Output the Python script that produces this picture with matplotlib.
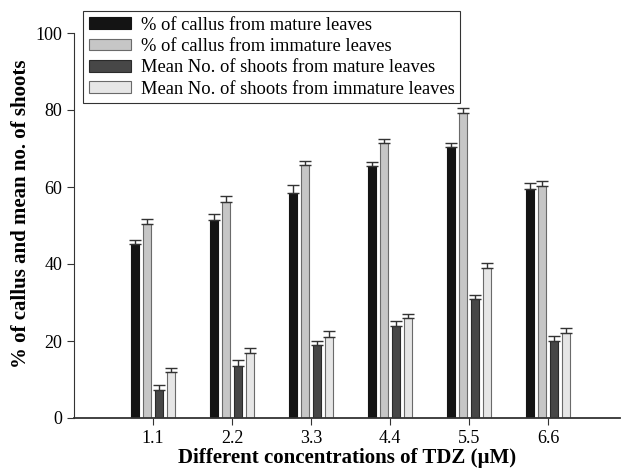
import matplotlib
matplotlib.use("Agg")
import matplotlib.pyplot as plt
import numpy as np

concentrations = ["1.1", "2.2", "3.3", "4.4", "5.5", "6.6"]

callus_mature = [45.2, 51.5, 58.5, 65.5, 70.5, 59.5]
callus_mature_err = [1.0, 1.5, 2.0, 1.0, 1.0, 1.5]
callus_immature = [50.5, 56.2, 65.7, 71.5, 79.2, 60.3]
callus_immature_err = [1.2, 1.5, 1.0, 1.0, 1.3, 1.2]
shoots_mature = [7.4, 13.6, 19.0, 24.0, 31.0, 20.0]
shoots_mature_err = [1.2, 1.4, 1.0, 1.2, 1.0, 1.2]
shoots_immature = [12.0, 17.0, 21.0, 26.0, 39.0, 22.0]
shoots_immature_err = [1.0, 1.2, 1.5, 1.0, 1.2, 1.5]

labels = ["% of callus from mature leaves",
          "% of callus from immature leaves",
          "Mean No. of shoots from mature leaves",
          "Mean No. of shoots from immature leaves"]
colors = ["#141414", "#c6c6c6", "#474747", "#e6e6e6"]
edges = ["#141414", "#6a6a6a", "#2a2a2a", "#6a6a6a"]

plt.rcParams['font.family'] = ['Liberation Serif', 'DejaVu Serif']

fig = plt.figure(figsize=(6.22, 4.75), dpi=100)
# axes spans y=0 at 418 px to y=100 at 33 px
ax = fig.add_axes([0.119, 57 / 475, 0.878, 385 / 475])

x = np.arange(len(concentrations))
series = [(callus_mature, callus_mature_err),
          (callus_immature, callus_immature_err),
          (shoots_mature, shoots_mature_err),
          (shoots_immature, shoots_immature_err)]
offsets = [-0.228, -0.076, 0.076, 0.228]
for (vals, err), off, c, ec, lab in zip(series, offsets, colors, edges, labels):
    ax.bar(x + off, vals, width=0.1, color=c, edgecolor=ec, linewidth=0.8,
           label=lab, yerr=[np.zeros(len(err)), err],
           error_kw=dict(ecolor="#333333", elinewidth=1.0, capsize=4, capthick=1.0))

ax.set_xlim(-1, 5.91)
ax.set_ylim(0, 100)
ax.set_xticks(x)
ax.set_xticklabels(concentrations)
ax.set_yticks([0, 20, 40, 60, 80, 100])
ax.spines['top'].set_visible(False)
ax.spines['right'].set_visible(False)
ax.spines['left'].set_color("#333333")
ax.spines['bottom'].set_color("#333333")
ax.spines['bottom'].set_linewidth(1.3)
ax.tick_params(labelsize=13, direction='out', length=5, color="#333333")

ax.set_xlabel("Different concentrations of TDZ (\u00b5M)", fontsize=15,
              fontweight='bold', labelpad=1)
ax.set_ylabel("% of callus and mean no. of shoots", fontsize=15,
              fontweight='bold')
ax.yaxis.set_label_coords(-0.078, 0.53)

leg = ax.legend(loc='upper left', bbox_to_anchor=(83 / 622, 1 - 11 / 475),
                bbox_transform=fig.transFigure, borderaxespad=0,
                fontsize=13.3, frameon=True, fancybox=False, edgecolor="black",
                handlelength=2.3, handleheight=0.6, labelspacing=0.24,
                borderpad=0.3, handletextpad=0.55)
leg.get_frame().set_linewidth(0.8)

fig.savefig("out.png", dpi=100)
